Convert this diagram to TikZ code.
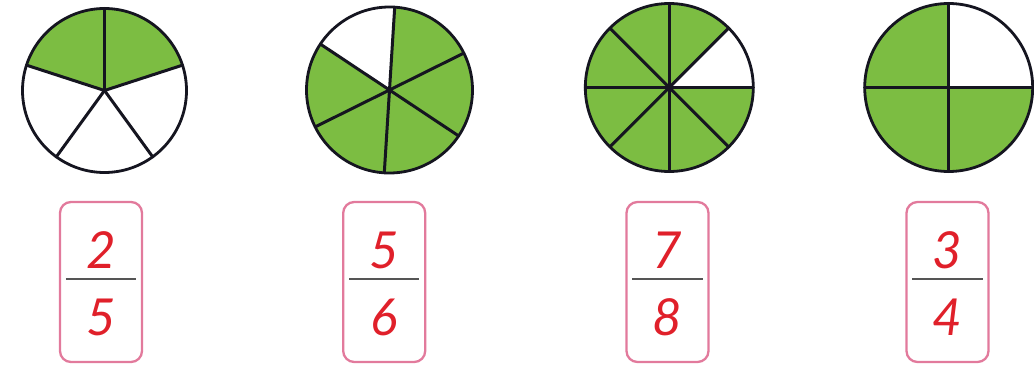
\documentclass[tikz,border=0pt]{standalone}
\usepackage{fontspec}
\newfontfamily\handfont{Lato}
\definecolor{pgreen}{HTML}{7CBD42}
\definecolor{cardpink}{HTML}{E27A9C}
\definecolor{digred}{HTML}{E0202A}
\definecolor{bargray}{HTML}{555555}
\definecolor{inkline}{HTML}{151520}
\begin{document}
\begin{tikzpicture}[x=1pt,y=1pt,
  pieout/.style={draw=inkline, line width=2.8pt},
  spoke/.style={draw=inkline, line width=3pt, line cap=round},
  piecenter/.style={circle, inner sep=0pt, minimum size=2pt},
  card/.style={draw=cardpink, line width=2.3pt, rounded corners=11pt, minimum width=82pt, minimum height=160pt, inner sep=0pt},
  digit/.style={text=digred, inner sep=0pt, font=\handfont\itshape\fontsize{51}{51}\selectfont},
  bar/.style={draw=bargray, line width=1.3pt}]
\useasboundingbox (0,0) rectangle (1034,365);

% ---- circle 1: 2/5 ----
\node[piecenter] (c1) at (104.5,274.5) {};
\fill[pgreen] (c1.center) -- ++(18:82) arc (18:162:82) -- cycle;
\foreach \a in {18,90,162,234,306} \draw[spoke] (c1.center) -- ++(\a:82);
\draw[pieout] (c1.center) circle (82);

% ---- circle 2: 5/6 ----
\node[piecenter] (c2) at (389.5,275) {};
\fill[pgreen] (c2.center) -- ++(146.4:83) arc (146.4:446.4:83) -- cycle;
\foreach \a in {26.4,86.4,146.4,206.4,266.4,326.4} \draw[spoke] (c2.center) -- ++(\a:83);
\draw[pieout] (c2.center) circle (83);

% ---- circle 3: 7/8 ----
\node[piecenter] (c3) at (669.3,277.5) {};
\fill[pgreen] (c3.center) -- ++(45:84) arc (45:360:84) -- cycle;
\foreach \a in {0,45,...,315} \draw[spoke] (c3.center) -- ++(\a:84);
\draw[pieout] (c3.center) circle (84);

% ---- circle 4: 3/4 ----
\node[piecenter] (c4) at (948.7,277.5) {};
\fill[pgreen] (c4.center) -- ++(90:84) arc (90:360:84) -- cycle;
\foreach \a in {0,90,180,270} \draw[spoke] (c4.center) -- ++(\a:84);
\draw[pieout] (c4.center) circle (84);

% ---- cards ----
\foreach \i/\x/\n/\d in {1/101/2/5, 2/384.2/5/6, 3/667.5/7/8, 4/947.5/3/4}{
  \node[card] (b\i) at (\x,83) {};
  \draw[bar] ([xshift=7pt,yshift=3pt]b\i.west) -- ([xshift=-7pt,yshift=3pt]b\i.east);
  \node[digit] (num\i) at ([yshift=32pt]b\i.center) {\n};
  \node[digit] (den\i) at ([yshift=-35pt]b\i.center) {\d};
}
\end{tikzpicture}
\end{document}
